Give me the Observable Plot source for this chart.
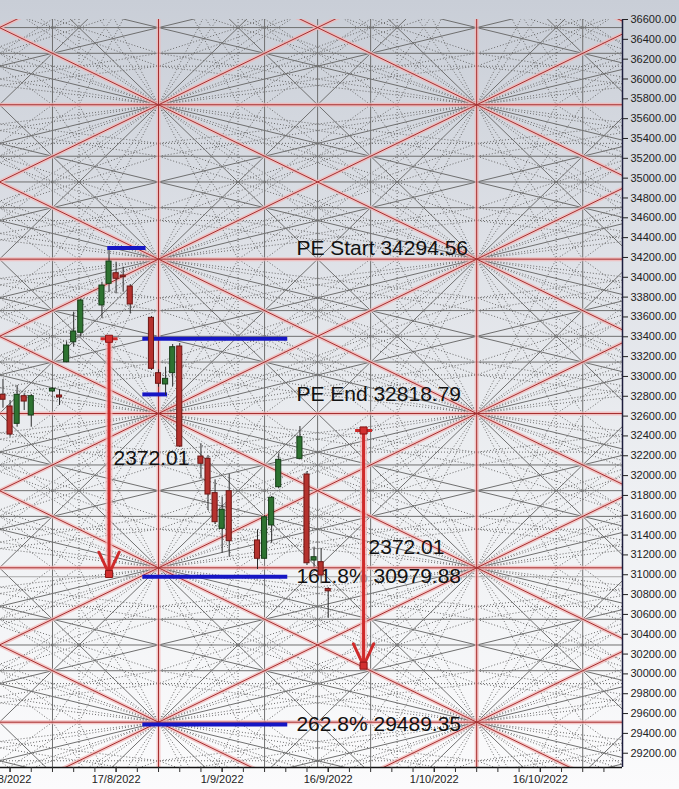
<!DOCTYPE html>
<html><head><meta charset="utf-8">
<script src="https://cdn.jsdelivr.net/npm/d3@7"></script>
<script src="https://cdn.jsdelivr.net/npm/@observablehq/plot@0.6"></script>
<style>
html,body{margin:0;padding:0;}
body{width:679px;height:789px;overflow:hidden;background:linear-gradient(to bottom,#c9ced7 0%,#dde0e6 30%,#edeff2 60%,#fbfbfc 100%);font-family:"Liberation Sans",Arial,sans-serif;}
#chart svg{display:block;background:transparent;}
</style></head><body><div id="chart"></div>
<script>
const DAY = 864e5;
// ---- candlestick data ----
const dates = ["2022-08-01","2022-08-02","2022-08-03","2022-08-04","2022-08-05","2022-08-08","2022-08-09","2022-08-10","2022-08-11","2022-08-12","2022-08-15","2022-08-16","2022-08-17","2022-08-18","2022-08-19","2022-08-22","2022-08-23","2022-08-24","2022-08-25","2022-08-26","2022-08-29","2022-08-30","2022-08-31","2022-09-01","2022-09-02","2022-09-06","2022-09-07","2022-09-08","2022-09-09","2022-09-12","2022-09-13","2022-09-14","2022-09-15","2022-09-16"];
const opens  = [32815,32697,32522,32801,32606,32848,32808,33144,33345,33440,33716,33934,34041,34018,33907,33591,33033,32919,33033,33302,32192,32169,31823,31463,31843,31346,31161,31497,31883,32169,32011,31143,31127,30856];
const highs  = [32970,32757,32909,32825,32818,32888,32865,33345,33648,33780,33950,34270,34152,34102,33927,33604,33067,33093,33322,33332,32321,32203,31957,31782,32011,31453,31597,31789,32220,32495,32040,31278,31264,30870];
const lows   = [32680,32387,32488,32656,32488,32838,32707,33138,33295,33403,33584,33850,33833,33850,33632,33060,32891,32808,32898,32283,31968,31648,31507,31217,31177,31053,31161,31318,31867,32159,31093,31076,30909,30560];
const closes = [32765,32414,32815,32747,32801,32875,32788,33312,33453,33766,33917,34159,33985,34001,33726,33077,32926,32976,33295,32293,32119,31809,31530,31655,31338,31161,31580,31776,32159,32387,31116,31177,30992,30833];

// ---- Gann grid (red cell boundaries) ----
const redDates  = ["2022-07-09","2022-08-23","2022-10-07","2022-11-21"];
const redPrices = [37297,35740,34183,32626,31070,29513,27957];
const solidFractions = [1/3,1/2,2/3];
const dottedFractions = [1/4,3/4];
const fanFractions = [1/4,1/3,1/2,2/3,3/4];

// ---- blue level lines ----
const blueStarts = ["2022-08-15T18:00Z","2022-08-20T17:00Z","2022-08-20T17:00Z","2022-08-20T17:00Z","2022-08-20T17:00Z"];
const blueEnds   = ["2022-08-21T04:00Z","2022-09-10T05:00Z","2022-08-24T05:00Z","2022-09-10T05:00Z","2022-09-10T05:00Z"];
const bluePrices = [34294.56,33380,32818.79,30979.88,29489.35];

// ---- red measuring arrows ----
const arrowDates   = ["2022-08-16T00:00Z","2022-09-21T00:00Z"];
const arrowTops    = [33380,32455];
const arrowBottoms = [31008,30083];

// ---- text labels ----
const labelTexts  = ["2372.01","2372.01","PE Start 34294.56","PE End 32818.79","161.8% 30979.88","262.8% 29489.35"];
const labelDates  = ["2022-08-16T15:00Z","2022-09-21T17:00Z","2022-09-11T12:00Z","2022-09-11T12:00Z","2022-09-11T12:00Z","2022-09-11T12:00Z"];
const labelPrices = [32172,31275,34294.56,32818.79,30979.88,29489.35];

// ---- axes ----
const xLabelDates = ["2022-08-02","2022-08-17","2022-09-01","2022-09-16","2022-10-01","2022-10-16"];
const yTickValues = d3.range(29200, 36601, 200);
const xDomain = [new Date("2022-07-31T15:34Z"), new Date("2022-10-27T15:01Z")];
const yDomain = [29056, 36600];

// ---- build tables ----
const toD = s => new Date(s.length === 10 ? s + "T00:00:00Z" : s);
const candles = dates.map((d,i)=>({date:toD(d),open:opens[i],high:highs[i],low:lows[i],close:closes[i]}));
const up = candles.filter(d=>d.close>=d.open), down = candles.filter(d=>d.close<d.open);

const redX = redDates.map(toD);
const lerp = (a,b,f)=>a+f*(b-a);
const lerpD = (a,b,f)=>new Date(+a+f*(b-a));
const redDiag=[], solidDiag=[], dotDiag=[], hSolid=[], hDot=[], vSolid=[], vDot=[];
for (let j=0;j<redPrices.length-1;j++){
  for (const f of solidFractions) hSolid.push(lerp(redPrices[j],redPrices[j+1],f));
  for (const f of dottedFractions) hDot.push(lerp(redPrices[j],redPrices[j+1],f));
}
for (let i=0;i<redX.length-1;i++){
  for (const f of solidFractions) vSolid.push(lerpD(redX[i],redX[i+1],f));
  for (const f of dottedFractions) vDot.push(lerpD(redX[i],redX[i+1],f));
}
for (let i=0;i<redX.length-1;i++) for (let j=0;j<redPrices.length-1;j++){
  const xa=redX[i], xb=redX[i+1], ya=redPrices[j], yb=redPrices[j+1];
  redDiag.push({x1:xa,y1:ya,x2:xb,y2:yb},{x1:xa,y1:yb,x2:xb,y2:ya});
  for (const [cx,cy,ox,oy] of [[xa,ya,xb,yb],[xb,ya,xa,yb],[xa,yb,xb,ya],[xb,yb,xa,ya]]){
    for (const f of fanFractions){
      const s1={x1:cx,y1:cy,x2:ox,y2:lerp(cy,oy,f)};
      const s2={x1:cx,y1:cy,x2:lerpD(cx,ox,f),y2:oy};
      (f===0.5?solidDiag:dotDiag).push(s1,s2);
    }
  }
}
const blues = bluePrices.map((p,i)=>({x1:toD(blueStarts[i]),x2:toD(blueEnds[i]),y:p}));
const arrows = arrowDates.map((d,i)=>({x:toD(d),top:arrowTops[i],bottom:arrowBottoms[i]}));
const arrowEnds = arrows.flatMap(a=>[{x:a.x,y:a.top},{x:a.x,y:a.bottom}]);
const labels = labelTexts.map((t,i)=>({text:t,x:toD(labelDates[i]),y:labelPrices[i]}));
const fmtDate = d=>`${d.getUTCDate()}/${d.getUTCMonth()+1}/${d.getUTCFullYear()}`;
const minorTicks = d3.utcDay.range(toD("2022-07-27"), xDomain[1], 1).filter((d,i)=>i%3===0);

const RED="#a52e2e", GLOW="#f3b6b6", GRAY="#6f6f6f", DOT="#6a6a6a";
const plot = Plot.plot({
  width:679, height:789,
  marginLeft:0, marginRight:57, marginTop:19, marginBottom:22,
  style:{background:"transparent", fontFamily:"'Liberation Sans', Arial, sans-serif"},
  x:{type:"utc", domain:xDomain, axis:null},
  y:{domain:yDomain, axis:null},
  marks:[
    // dotted gann lines
    Plot.link(dotDiag,{x1:"x1",y1:"y1",x2:"x2",y2:"y2",stroke:DOT,strokeWidth:1,strokeDasharray:"1,2",clip:true}),
    Plot.ruleY(hDot,{stroke:DOT,strokeDasharray:"1,2",clip:true}),
    Plot.ruleX(vDot,{stroke:DOT,strokeDasharray:"1,2",clip:true}),
    // solid gray lines
    Plot.link(solidDiag,{x1:"x1",y1:"y1",x2:"x2",y2:"y2",stroke:GRAY,strokeWidth:1,clip:true}),
    Plot.ruleY(hSolid,{stroke:GRAY,clip:true}),
    Plot.ruleX(vSolid,{stroke:GRAY,clip:true}),
    Plot.ruleY([bluePrices[3]],{stroke:"#a9a9a9",clip:true}),
    // red grid with glow
    Plot.link(redDiag,{x1:"x1",y1:"y1",x2:"x2",y2:"y2",stroke:GLOW,strokeWidth:4,strokeOpacity:0.75,clip:true}),
    Plot.ruleY(redPrices,{stroke:GLOW,strokeWidth:4,strokeOpacity:0.75,clip:true}),
    Plot.ruleX(redX,{stroke:GLOW,strokeWidth:4,strokeOpacity:0.75,clip:true}),
    Plot.link(redDiag,{x1:"x1",y1:"y1",x2:"x2",y2:"y2",stroke:RED,strokeWidth:1,clip:true}),
    Plot.ruleY(redPrices,{stroke:RED,strokeWidth:1,clip:true}),
    Plot.ruleX(redX,{stroke:RED,strokeWidth:1,clip:true}),
    // text
    Plot.text(labels,{x:"x",y:"y",text:"text",textAnchor:"start",fontSize:21,fill:"#111",fontFamily:"'Liberation Sans', Arial, sans-serif"}),
    // blue levels
    Plot.link(blues,{x1:"x1",x2:"x2",y1:"y",y2:"y",stroke:"#1616c4",strokeWidth:4}),
    // candles
    Plot.ruleX(candles,{x:"date",y1:"low",y2:"high",stroke:"#2a2a2a",strokeWidth:1}),
    Plot.rect(up,{x1:d=>new Date(+d.date-0.36*DAY),x2:d=>new Date(+d.date+0.36*DAY),y1:"open",y2:"close",fill:"#2e7331",stroke:"#163d18",strokeWidth:1}),
    Plot.rect(down,{x1:d=>new Date(+d.date-0.36*DAY),x2:d=>new Date(+d.date+0.36*DAY),y1:"open",y2:"close",fill:"#b5322e",stroke:"#6d1614",strokeWidth:1}),
    // arrows
    Plot.link(arrows,{x1:"x",x2:"x",y1:"top",y2:"bottom",stroke:GLOW,strokeWidth:7,strokeOpacity:0.7}),
    Plot.arrow(arrows,{x1:"x",x2:"x",y1:"top",y2:"bottom",stroke:"#cf2a2a",strokeWidth:3,headLength:12,headAngle:50}),
    Plot.link(arrows,{x1:d=>new Date(+d.x-1.2*DAY),x2:d=>new Date(+d.x+1.2*DAY),y1:"top",y2:"top",stroke:"#cf2a2a",strokeWidth:3}),
    Plot.dot(arrowEnds,{x:"x",y:"y",symbol:"square",r:4,fill:"#d23030",stroke:"#8a1616",strokeWidth:1}),
    // axes
    Plot.ruleX([xDomain[1]],{stroke:"#1c1c3c",strokeWidth:1.5}),
    Plot.ruleY([yDomain[0]],{stroke:"#111",strokeWidth:1.5}),
    Plot.axisY({anchor:"right",ticks:yTickValues,tickFormat:d=>d.toFixed(2),tickSize:5,tickPadding:3,fontSize:11,color:"#222"}),
    Plot.axisX({ticks:minorTicks,tickFormat:()=>"",tickSize:5,color:"#333"}),
    Plot.axisX({ticks:xLabelDates.map(toD),tickFormat:fmtDate,tickSize:5,tickPadding:3,fontSize:11,color:"#222"})
  ]
});
document.getElementById("chart").appendChild(plot);
</script></body></html>
